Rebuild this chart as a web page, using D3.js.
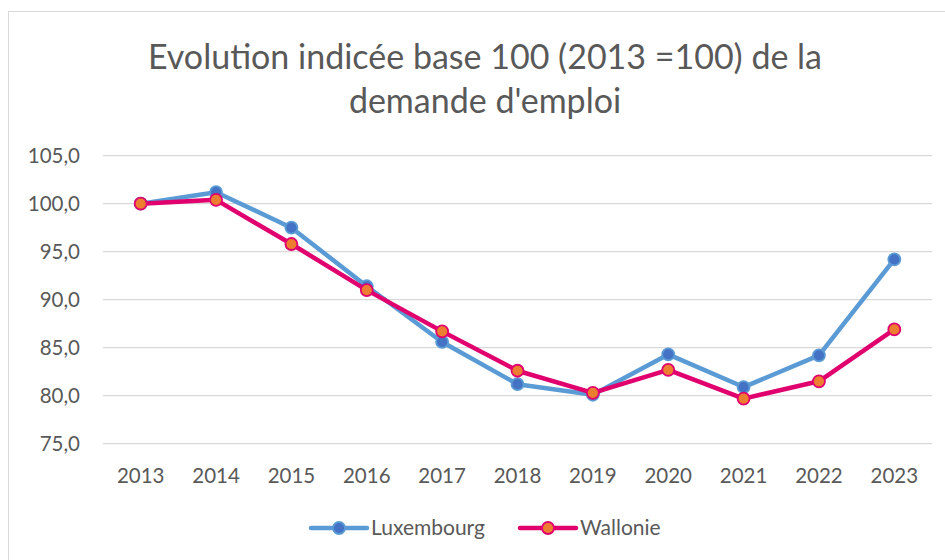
<!DOCTYPE html>
<html>
<head>
<meta charset="utf-8">
<script src="https://cdn.jsdelivr.net/npm/d3@7"></script>
<style>
  body { margin: 0; background: #fff; }
  text { font-family: Lato, "Open Sans", sans-serif; fill: #595959; }
</style>
</head>
<body>
<div id="chart"></div>
<script>
"use strict";

const years = ["2013", "2014", "2015", "2016", "2017", "2018", "2019", "2020", "2021", "2022", "2023"];
const luxembourg = [100.0, 101.2, 97.5, 91.4, 85.6, 81.2, 80.1, 84.3, 80.9, 84.2, 94.2];
const wallonie = [100.0, 100.4, 95.8, 91.0, 86.7, 82.6, 80.3, 82.7, 79.7, 81.5, 86.9];
const yTicks = [75, 80, 85, 90, 95, 100, 105];
const titleLines = ["Evolution indicée base 100 (2013 =100) de la", "demande d'emploi"];

const width = 945, height = 560;

let svg = d3.select("#chart")
    .append("svg")
    .attr("width", width)
    .attr("height", height);

// chart frame (runs off the right and bottom)
svg.append("rect")
    .attr("x", 8.5).attr("y", 11.5)
    .attr("width", 960).attr("height", 600)
    .attr("fill", "#fff")
    .attr("stroke", "#d9d9d9");

let x = d3.scaleBand().domain(years).range([103, 932]);
let y = d3.scaleLinear().domain([75, 105]).range([443.7, 155.7]);

// title
svg.append("g").selectAll("text")
    .data(titleLines)
    .join("text")
    .attr("x", 485)
    .attr("y", (d, i) => 69 + i * 44)
    .attr("text-anchor", "middle")
    .style("font-size", "34px")
    .text(d => d);

// gridlines
svg.append("g").selectAll("line")
    .data(yTicks)
    .join("line")
    .attr("x1", 103).attr("x2", 932)
    .attr("y1", d => y(d)).attr("y2", d => y(d))
    .attr("stroke", "#d9d9d9")
    .attr("stroke-width", 1.3);

// y axis labels
let fmt = d => d3.format(".1f")(d).replace(".", ",");
svg.append("g").selectAll("text")
    .data(yTicks)
    .join("text")
    .attr("x", 80)
    .attr("y", d => y(d))
    .attr("dy", "0.35em")
    .attr("text-anchor", "end")
    .style("font-size", "20.5px")
    .text(fmt);

// x axis labels
svg.append("g").selectAll("text")
    .data(years)
    .join("text")
    .attr("x", d => x(d) + x.bandwidth() / 2)
    .attr("y", 483)
    .attr("text-anchor", "middle")
    .style("font-size", "20.5px")
    .text(d => d);

const series = [
    { name: "Luxembourg", values: luxembourg, line: "#5b9bd5", fill: "#4472c4", legendX: 311 },
    { name: "Wallonie", values: wallonie, line: "#e0006e", fill: "#ed7d31", legendX: 520 }
];

let line = d3.line()
    .x((d, i) => x(years[i]) + x.bandwidth() / 2)
    .y(d => y(d));

series.forEach(s => {
    let g = svg.append("g");
    g.append("path")
        .datum(s.values)
        .attr("d", line)
        .attr("fill", "none")
        .attr("stroke", s.line)
        .attr("stroke-width", 4.5)
        .attr("stroke-linejoin", "round");
    g.selectAll("circle")
        .data(s.values)
        .join("circle")
        .attr("cx", (d, i) => x(years[i]) + x.bandwidth() / 2)
        .attr("cy", d => y(d))
        .attr("r", 6)
        .attr("fill", s.fill)
        .attr("stroke", s.line)
        .attr("stroke-width", 1.8);

    // legend entry
    let lg = svg.append("g").attr("transform", `translate(${s.legendX},528)`);
    lg.append("line")
        .attr("x1", 0).attr("x2", 56)
        .attr("stroke", s.line)
        .attr("stroke-width", 4.5)
        .attr("stroke-linecap", "round");
    lg.append("circle")
        .attr("cx", 28).attr("r", 6)
        .attr("fill", s.fill)
        .attr("stroke", s.line)
        .attr("stroke-width", 1.8);
    lg.append("text")
        .attr("x", 60)
        .attr("dy", "0.35em")
        .style("font-size", "21px")
        .text(s.name);
});
</script>
</body>
</html>
